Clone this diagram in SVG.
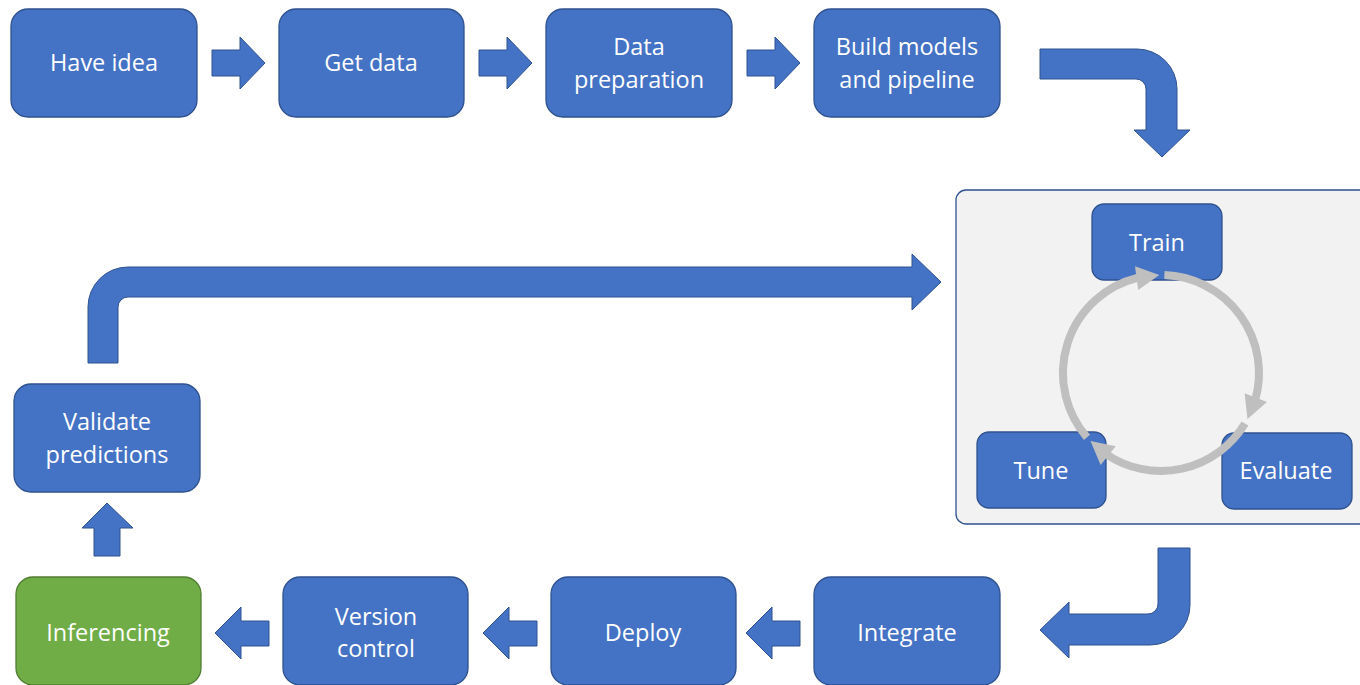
<svg xmlns="http://www.w3.org/2000/svg" width="1360" height="685" viewBox="0 0 1360 685">
<style>
.box{fill:#4472C4;stroke:#2F528F;stroke-width:1.3}
.green{fill:#70AD47;stroke:#507E32;stroke-width:1.3}
.arr{fill:#4472C4;stroke:#2F528F;stroke-width:1}
.t{font-family:"Open Sans","Noto Sans",sans-serif;font-size:23.5px;fill:#FFFFFF;text-anchor:middle}
.cyc{fill:none;stroke:#BFBFBF;stroke-width:8}
.head{fill:#BFBFBF}
</style>
<rect width="1360" height="685" fill="#FFFFFF"/>
<g id="container">
<rect x="956" y="190" width="420" height="334" rx="10" fill="#F2F2F2" stroke="#2F528F" stroke-width="1.3"/>
</g>
<g id="n-have-idea"><rect class="box" x="11" y="9" width="186" height="108" rx="17"/><text class="t" x="104" y="71">Have idea</text></g>
<g id="n-get-data"><rect class="box" x="279" y="9" width="185" height="108" rx="17"/><text class="t" x="371" y="71">Get data</text></g>
<g id="n-data-prep"><rect class="box" x="546" y="9" width="186" height="108" rx="17"/><text class="t" x="639" y="55">Data</text><text class="t" x="639" y="88">preparation</text></g>
<g id="n-build"><rect class="box" x="814" y="9" width="186" height="108" rx="17"/><text class="t" x="907" y="55">Build models</text><text class="t" x="907" y="88">and pipeline</text></g>
<g id="n-validate"><rect class="box" x="14" y="384" width="186" height="108" rx="17"/><text class="t" x="107" y="430">Validate</text><text class="t" x="107" y="463">predictions</text></g>
<g id="n-inferencing"><rect class="green" x="16" y="577" width="185" height="108" rx="17"/><text class="t" x="108" y="641">Inferencing</text></g>
<g id="n-version"><rect class="box" x="283" y="577" width="185" height="108" rx="17"/><text class="t" x="376" y="625">Version</text><text class="t" x="376" y="657">control</text></g>
<g id="n-deploy"><rect class="box" x="551" y="577" width="185" height="108" rx="17"/><text class="t" x="643" y="641">Deploy</text></g>
<g id="n-integrate"><rect class="box" x="814" y="577" width="186" height="108" rx="17"/><text class="t" x="907" y="641">Integrate</text></g>
<g id="n-train"><rect class="box" x="1092" y="204" width="130" height="76" rx="12"/><text class="t" x="1157" y="251">Train</text></g>
<g id="n-tune"><rect class="box" x="977" y="432" width="129" height="76" rx="12"/><text class="t" x="1041" y="479">Tune</text></g>
<g id="n-evaluate"><rect class="box" x="1222" y="433" width="130" height="76" rx="12"/><text class="t" x="1286" y="479">Evaluate</text></g>
<g id="connectors">
<path class="arr" d="M212,50 H240 V37 L265,63 L240,89 V76 H212 Z"/>
<path class="arr" d="M479,50 H507 V37 L532,63 L507,89 V76 H479 Z"/>
<path class="arr" d="M747,50 H775 V37 L800,63 L775,89 V76 H747 Z"/>
<path class="arr" d="M1040,49 H1137 A40,40 0 0 1 1177,89 V130 H1190 L1162,157 L1134,130 H1146 V89 A10,10 0 0 0 1136,79 H1040 Z"/>
<path class="arr" d="M1158,548 H1190 V605 A40,40 0 0 1 1150,645 H1069 V658 L1040,630 L1069,602 V614 H1148 A10,10 0 0 0 1158,604 Z"/>
<path class="arr" d="M800,621 H772 V607 L746,633 L772,659 V646 H800 Z"/>
<path class="arr" d="M537,621 H509 V607 L483,633 L509,659 V646 H537 Z"/>
<path class="arr" d="M269,621 H241 V607 L215,633 L241,659 V646 H269 Z"/>
<path class="arr" d="M94,556 V528 H82 L107,503 L133,528 H120 V556 Z"/>
<path class="arr" d="M88,363 V307 A40,40 0 0 1 128,267 H912 V254 L941,282 L912,310 V297 H128 A10,10 0 0 0 118,307 V363 Z"/>
<path class="cyc" d="M1164.4,275.1 A98,98 0 0 1 1255.2,400.0"/>
<polygon class="head" points="1247.5,419.0 1267.0,402.1 1244.6,393.3"/>
<path class="cyc" d="M1245.0,423.5 A98,98 0 0 1 1106.2,454.2"/>
<polygon class="head" points="1090.5,441.1 1115.8,446.3 1100.6,464.9"/>
<path class="cyc" d="M1087.0,437.3 A98,98 0 0 1 1137.3,277.9"/>
<polygon class="head" points="1159.3,275.0 1138.2,290.0 1135.0,266.2"/>
</g>
</svg>
